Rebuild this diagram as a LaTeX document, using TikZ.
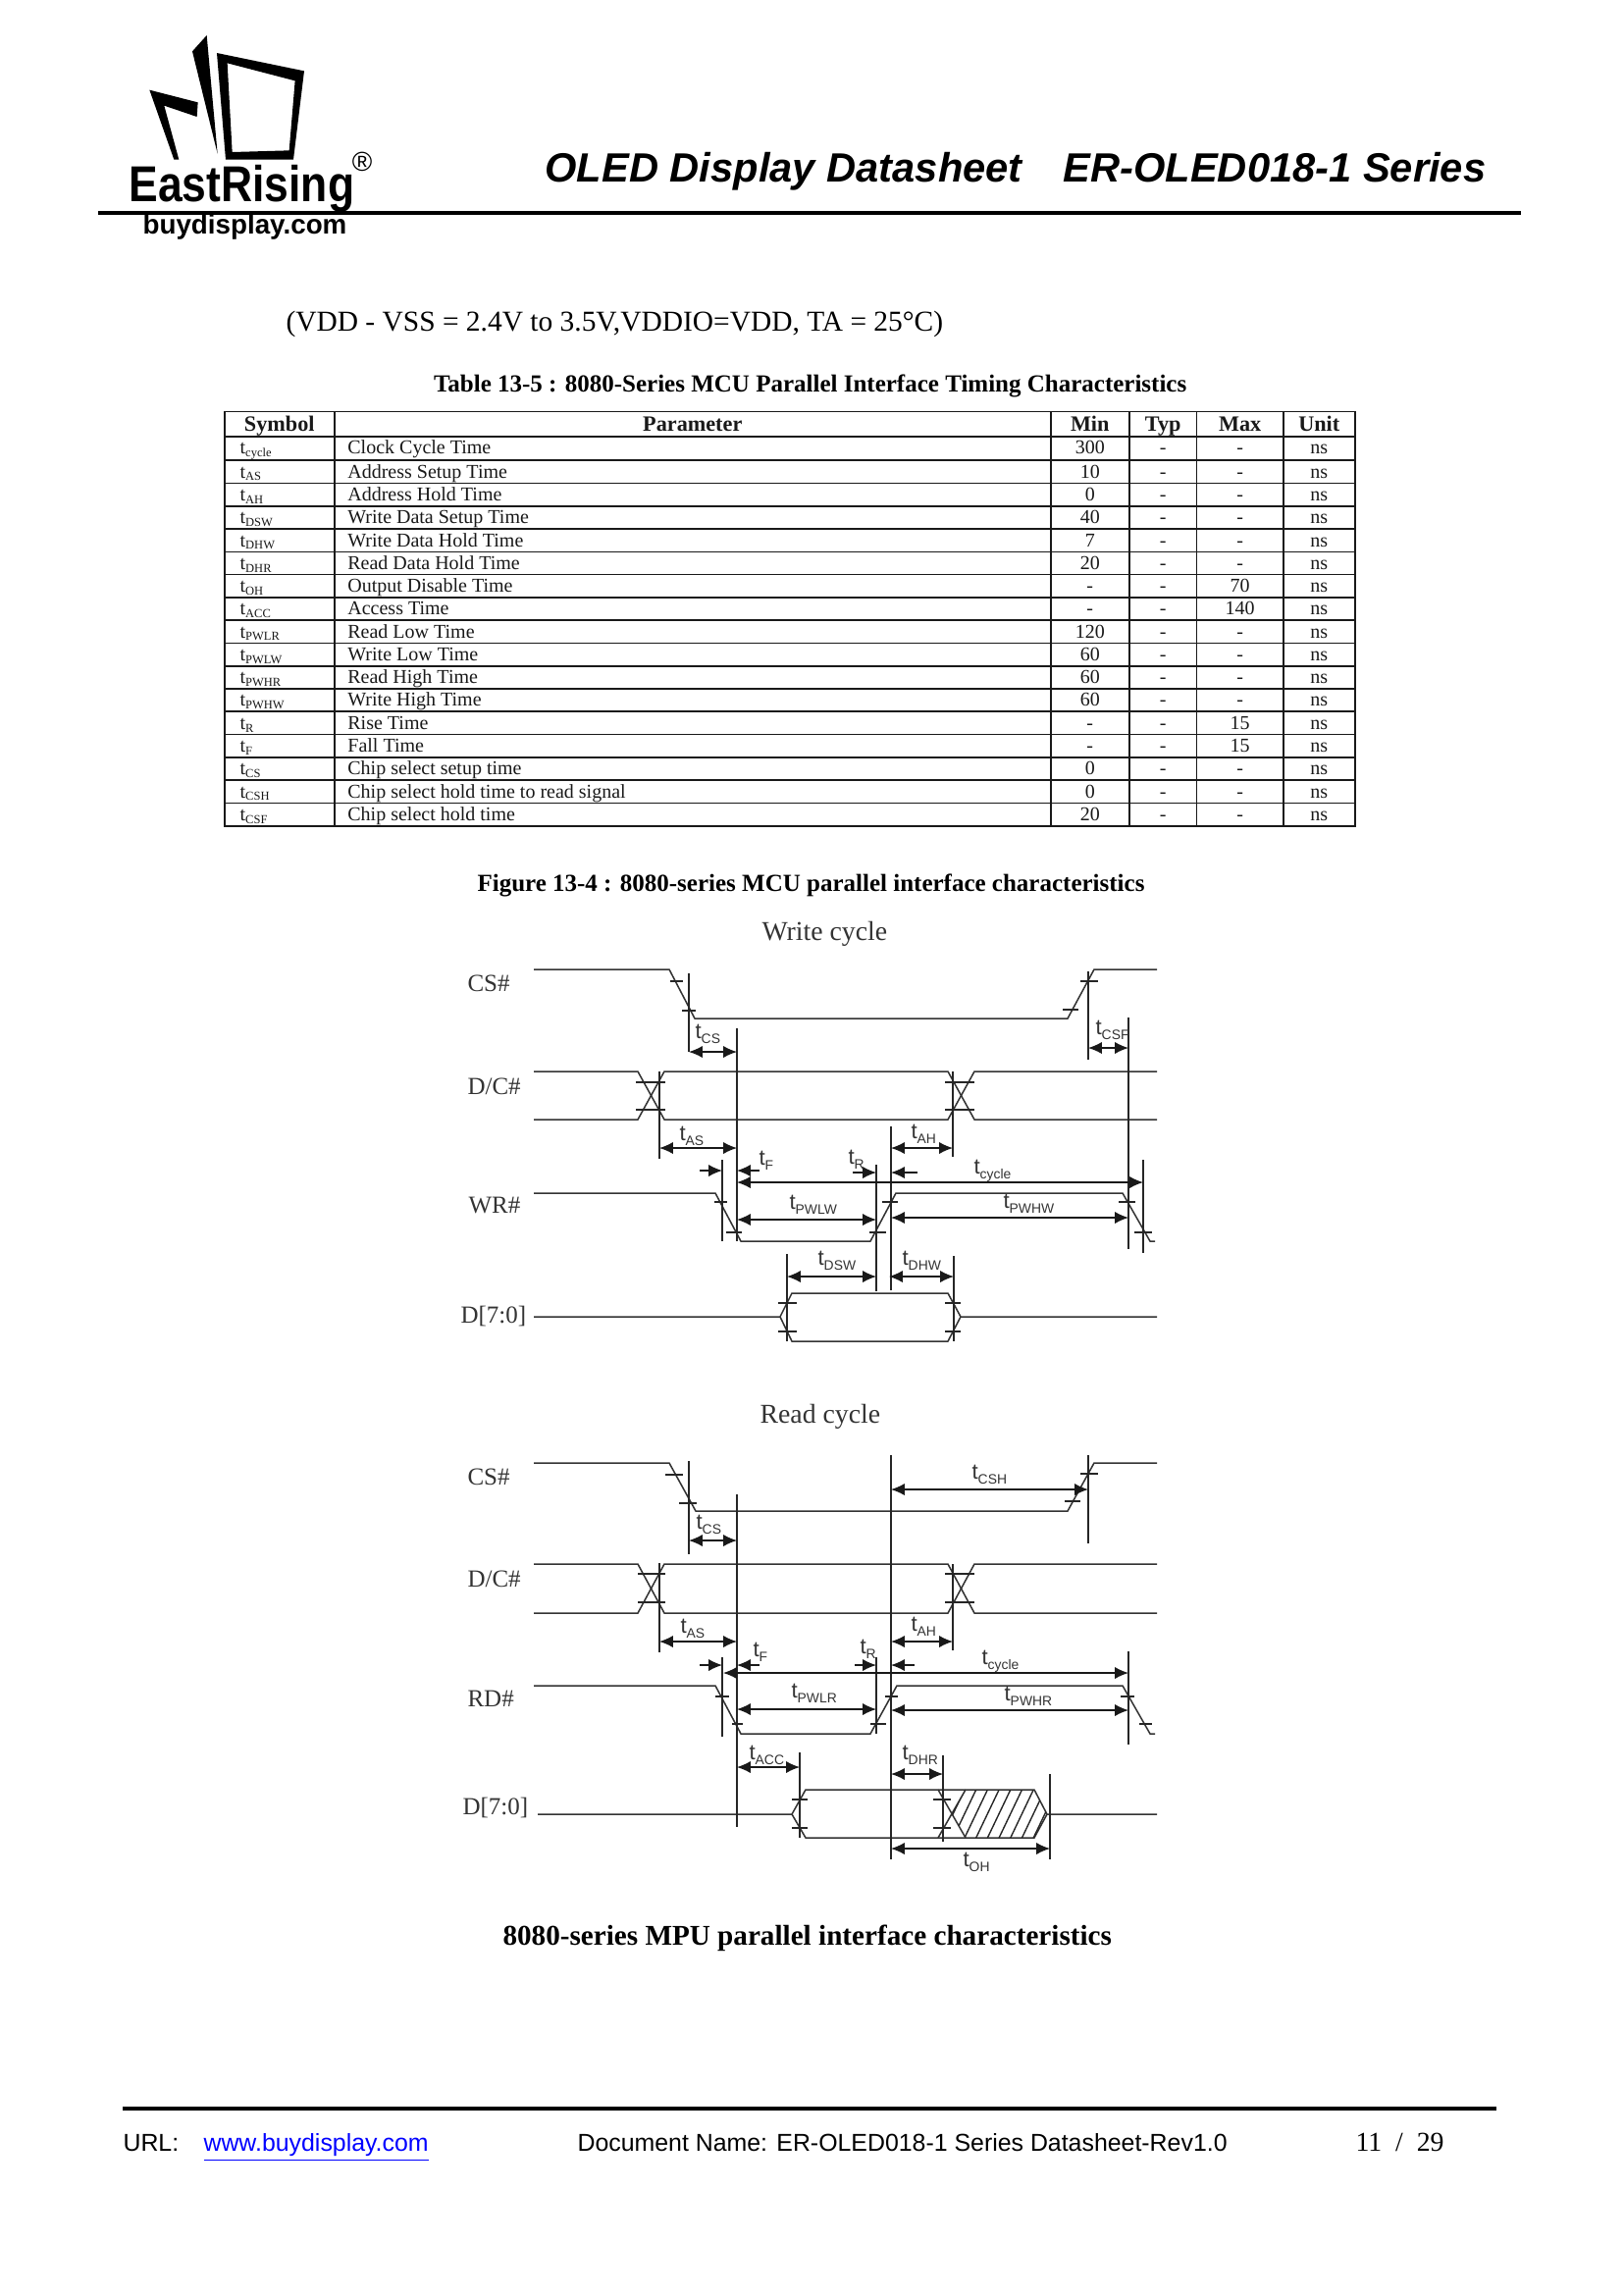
\documentclass[tikz,border=0pt]{standalone}
\usepackage{fontspec}
\usepackage{array}
\setmainfont{Liberation Serif}
\setsansfont{Liberation Sans}
\usepackage{tikz}
\usetikzlibrary{arrows.meta,positioning}
\definecolor{linkblue}{RGB}{0,0,255}
\setlength{\tabcolsep}{0pt}
\setlength{\arrayrulewidth}{0.6pt}
\setlength{\extrarowheight}{2.38pt}
\newcommand{\tlab}[1]{t\raisebox{-1.8pt}{\fontsize{5}{6}\selectfont #1}}
\newcommand{\tsym}[1]{t\raisebox{-1pt}{\fontsize{4.5}{5}\selectfont #1}}

\begin{document}
\begin{tikzpicture}[
    x=0.36pt,
    y=-0.36pt,
    >={Latex[length=5pt,width=4.4pt]},
    signal/.style={line width=0.55pt, draw=black!80},
    guide/.style={line width=0.5pt, draw=black!85},
    marktick/.style={line width=0.45pt, draw=black!85},
    dim/.style={line width=0.5pt, draw=black!90},
    timelabel/.style={
		anchor=base west,
		inner sep=0pt,
		text=black!80,
		font=\sffamily\fontsize{8}{9}\selectfont
	},
    siglabel/.style={
		anchor=base west,
		inner sep=0pt,
		text=black!80,
		font=\fontsize{9}{10}\selectfont
	},
    cycletitle/.style={
		anchor=base west,
		inner sep=0pt,
		text=black!80,
		font=\fontsize{10}{11}\selectfont
	},
    boldtitle/.style={
		anchor=base west,
		inner sep=0pt,
		font=\bfseries\fontsize{9}{10}\selectfont
	},
    footer/.style={
		anchor=base west,
		inner sep=0pt,
		font=\sffamily\fontsize{8.96}{10}\selectfont
	},
    heading/.style={
		anchor=base west,
		inner sep=0pt,
		font=\sffamily\bfseries\itshape\fontsize{15}{18}\selectfont
	}
  ]
  \useasboundingbox (0,0) rectangle (1654,2339);

  % Logo and page head
  \begin{scope}[shift={(90,20)}, x=0.12pt, y=-0.12pt]
    \fill (362,48) -- (318,97) -- (395,410) -- cycle;
    \fill (187,215) -- (335,253) -- (332,297) -- (232,263) -- (277,428) -- (262,428) -- cycle;
    \fill[even odd rule] (393,102) -- (660,157) -- (627,428) -- (420,428) -- cycle
      (425,133) -- (632,187) -- (614,400) -- (440,405) -- cycle;
  \end{scope}
  \node [anchor=base west, inner sep=0pt, font=\sffamily\bfseries\fontsize{18.5}{20}\selectfont] (brand) at (131,205) {\scalebox{0.865}[1]{EastRising}};
  \node [inner sep=0pt, font=\sffamily\fontsize{10}{11}\selectfont] (regmark) at (369,165) {\textregistered};
  \node [anchor=base west, inner sep=0pt, font=\sffamily\bfseries\fontsize{10}{11}\selectfont] (site) at (145,238) {buydisplay.com};
  \node [heading] (head1) at (555,185) {OLED Display Datasheet};
  \node [heading] (head2) at (1083,185) {ER-OLED018-1 Series};
  \draw [line width=1.6pt] (100,217) -- (1550,217);

  \node [anchor=base west, inner sep=0pt, font=\fontsize{10.6}{12}\selectfont] (cond) at (291,337) {(VDD - VSS = 2.4V to 3.5V,VDDIO=VDD, TA = 25°C)};
  \node [boldtitle] (tabletitle) at (441.5,399.5) {Table 13-5 : 8080-Series MCU Parallel Interface Timing Characteristics};

  % The table
  \node [anchor=north west, inner sep=0pt, outer sep=0pt, text=black!90] (timingtable) at (228,418.5)
 {%
 \fontsize{7.2}{5.4}\selectfont
 \begin{tabular}{|>{\hspace*{5.4pt}}p{39.7pt}|>{\hspace*{4.6pt}}p{262.2pt}|>{\centering\arraybackslash}p{28.2pt}|>{\centering\arraybackslash}p{24.2pt}|>{\centering\arraybackslash}p{31.1pt}|>{\centering\arraybackslash}p{25.7pt}|}
  \hline
  \multicolumn{1}{|c|}{\rule{0pt}{6.9pt}\fontsize{8}{8}\selectfont\textbf{Symbol}} & \multicolumn{1}{c|}{\fontsize{8}{8}\selectfont\textbf{Parameter}} & \textbf{\fontsize{8}{8}\selectfont Min} & \textbf{\fontsize{8}{8}\selectfont Typ} & \textbf{\fontsize{8}{8}\selectfont Max} & \textbf{\fontsize{8}{8}\selectfont Unit}\\ \hline
  \tsym{cycle} & Clock Cycle Time & 300 & - & - & ns\\ \hline
  \tsym{AS} & Address Setup Time & 10 & - & - & ns\\ \hline
  \tsym{AH} & Address Hold Time & 0 & - & - & ns\\ \hline
  \tsym{DSW} & Write Data Setup Time & 40 & - & - & ns\\ \hline
  \tsym{DHW} & Write Data Hold Time & 7 & - & - & ns\\ \hline
  \tsym{DHR} & Read Data Hold Time & 20 & - & - & ns\\ \hline
  \tsym{OH} & Output Disable Time & - & - & 70 & ns\\ \hline
  \tsym{ACC} & Access Time & - & - & 140 & ns\\ \hline
  \tsym{PWLR} & Read Low Time & 120 & - & - & ns\\ \hline
  \tsym{PWLW} & Write Low Time & 60 & - & - & ns\\ \hline
  \tsym{PWHR} & Read High Time & 60 & - & - & ns\\ \hline
  \tsym{PWHW} & Write High Time & 60 & - & - & ns\\ \hline
  \tsym{R} & Rise Time & - & - & 15 & ns\\ \hline
  \tsym{F} & Fall Time & - & - & 15 & ns\\ \hline
  \tsym{CS} & Chip select setup time & 0 & - & - & ns\\ \hline
  \tsym{CSH} & Chip select hold time to read signal & 0 & - & - & ns\\ \hline
  \tsym{CSF} & Chip select hold time & 20 & - & - & ns\\ \hline
 \end{tabular}
 };

  \node [boldtitle] (figtitle) at (486,908) {Figure 13-4 : 8080-series MCU parallel interface characteristics};

  % Write cycle
  \node [cycletitle] (writetitle) at (776,958) {Write cycle};
  \node [siglabel] (wcs) at (476,1010) {CS\#};
  \node [siglabel] (wdc) at (476,1115) {D/C\#};
  \node [siglabel] (wwr) at (477,1236) {WR\#};
  \node [siglabel] (wdata) at (469,1348) {D[7:0]};

  \draw [signal] (544,988) -- (682,988) -- (708,1038) -- (1088,1038) -- (1115,988) -- (1179,988);
  \draw [signal] (544,1092) -- (650,1092) -- (677,1141) -- (966,1141) -- (993,1092) -- (1179,1092);
  \draw [signal] (544,1141) -- (650,1141) -- (677,1092) -- (966,1092) -- (993,1141) -- (1179,1141);
  \draw [signal] (544,1216) -- (729,1216) -- (755,1265) -- (887,1265) -- (913,1216) -- (1144,1216) -- (1172,1265) -- (1177,1265);
  \draw [signal] (544,1342) -- (795,1342) -- (807,1318) -- (966,1318) -- (979,1342) -- (1179,1342);
  \draw [signal] (795,1342) -- (807,1367) -- (966,1367) -- (979,1342);

  % small ticks on the edges
  \draw [marktick] (683,1000) -- (696,1000);
  \draw [marktick] (695,1030) -- (709,1030);
  \draw [marktick] (1101,1000) -- (1119,1000);
  \draw [marktick] (1083,1029) -- (1099,1029);
  \draw [marktick] (648,1103) -- (678,1103);
  \draw [marktick] (648,1131) -- (678,1131);
  \draw [marktick] (963,1103) -- (993,1103);
  \draw [marktick] (963,1131) -- (993,1131);
  \draw [marktick] (728,1225) -- (741,1225);
  \draw [marktick] (740,1256) -- (756,1256);
  \draw [marktick] (886,1256) -- (903,1256);
  \draw [marktick] (899,1225) -- (915,1225);
  \draw [marktick] (1140,1225) -- (1157,1225);
  \draw [marktick] (1156,1256) -- (1174,1256);
  \draw [marktick] (793,1328) -- (812,1328);
  \draw [marktick] (793,1357) -- (812,1357);
  \draw [marktick] (963,1328) -- (979,1328);
  \draw [marktick] (963,1357) -- (979,1357);

  % guide lines
  \draw [guide] (702,992) -- (702,1072);
  \draw [guide] (751,1048) -- (751,1265);
  \draw [guide] (672,1092) -- (672,1181);
  \draw [guide] (908,1148) -- (908,1315);
  \draw [guide] (971,1092) -- (971,1179);
  \draw [guide] (1109,990) -- (1109,1080);
  \draw [guide] (1150,1037) -- (1150,1273);
  \draw [guide] (736,1182) -- (736,1265);
  \draw [guide] (1165,1182) -- (1165,1277);
  \draw [guide] (893,1187) -- (893,1316);
  \draw [guide] (802,1278) -- (802,1367);
  \draw [guide] (972,1280) -- (972,1367);

  % dimension arrows
  \draw [dim,<->] (702,1072) -- (751,1072);
  \draw [dim,<->] (672,1170) -- (751,1170);
  \draw [dim,<->] (908,1170) -- (971,1170);
  \draw [dim,<->] (1109,1068) -- (1150,1068);
  \draw [dim,->] (713,1193) -- (736,1193);
  \draw [dim,->] (774,1193) -- (751,1193);
  \draw [dim,<->] (751,1205) -- (1165,1205);
  \draw [dim,->] (869,1195) -- (893,1195);
  \draw [dim,->] (935,1195) -- (908,1195);
  \draw [dim,<->] (751,1243) -- (893,1243);
  \draw [dim,<->] (908,1241) -- (1150,1241);
  \draw [dim,<->] (802,1301) -- (893,1301);
  \draw [dim,<->] (906,1301) -- (972,1301);

  \node [timelabel] (wtcs) at (708,1058) {\tlab{CS}};
  \node [timelabel] (wtas) at (692,1162) {\tlab{AS}};
  \node [timelabel] (wtf) at (773,1187) {\tlab{F}};
  \node [timelabel] (wtcsf) at (1116,1054) {\tlab{CSF}};
  \node [timelabel] (wtah) at (928,1160) {\tlab{AH}};
  \node [timelabel] (wtr) at (864,1186) {\tlab{R}};
  \node [timelabel] (wtcycle) at (992,1196) {\tlab{cycle}};
  \node [timelabel] (wtpwlw) at (804,1232) {\tlab{PWLW}};
  \node [timelabel] (wtpwhw) at (1022,1231) {\tlab{PWHW}};
  \node [timelabel] (wtdsw) at (833,1289) {\tlab{DSW}};
  \node [timelabel] (wtdhw) at (919,1289) {\tlab{DHW}};

  % Read cycle
  \node [cycletitle] (readtitle) at (774,1450) {Read cycle};
  \node [siglabel] (rcs) at (476,1513) {CS\#};
  \node [siglabel] (rdc) at (476,1617) {D/C\#};
  \node [siglabel] (rrd) at (476,1739) {RD\#};
  \node [siglabel] (rdata) at (471,1849) {D[7:0]};

  \draw [signal] (544,1491) -- (682,1491) -- (709,1540) -- (1088,1540) -- (1115,1491) -- (1179,1491);
  \draw [signal] (544,1594) -- (650,1594) -- (677,1644) -- (966,1644) -- (993,1594) -- (1179,1594);
  \draw [signal] (544,1644) -- (650,1644) -- (677,1594) -- (966,1594) -- (993,1644) -- (1179,1644);
  \draw [signal] (544,1718) -- (729,1718) -- (755,1767) -- (887,1767) -- (914,1718) -- (1144,1718) -- (1172,1767) -- (1177,1767);
  \draw [signal] (548,1849) -- (807,1849) -- (821,1824) -- (1054,1824) -- (1067,1849) -- (1179,1849);
  \draw [signal] (807,1849) -- (821,1873) -- (1054,1873) -- (1067,1849);
  \draw [signal] (956,1824) -- (984,1873);
  \draw [signal] (956,1873) -- (984,1824);

  % hatching of the invalid data
  \begin{scope}
    \clip (970,1849) -- (984,1824) -- (1054,1824) -- (1067,1849) -- (1054,1873) -- (984,1873) -- cycle;
    \draw [guide] (983,1824) -- (959.6,1873);
    \draw [guide] (994.7,1824) -- (971.3,1873);
    \draw [guide] (1006.4,1824) -- (983,1873);
    \draw [guide] (1018.1,1824) -- (994.7,1873);
    \draw [guide] (1029.8,1824) -- (1006.4,1873);
    \draw [guide] (1041.5,1824) -- (1018.1,1873);
    \draw [guide] (1053.2,1824) -- (1029.8,1873);
    \draw [guide] (1064.9,1824) -- (1041.5,1873);
    \draw [guide] (1076.6,1824) -- (1053.2,1873);
  \end{scope}

  % small ticks on the edges
  \draw [marktick] (678,1503) -- (696,1503);
  \draw [marktick] (692,1532) -- (710,1532);
  \draw [marktick] (1101,1502) -- (1119,1502);
  \draw [marktick] (1085,1530) -- (1101,1530);
  \draw [marktick] (650,1604) -- (678,1604);
  \draw [marktick] (650,1633) -- (678,1633);
  \draw [marktick] (963,1604) -- (993,1604);
  \draw [marktick] (963,1633) -- (993,1633);
  \draw [marktick] (729,1729) -- (743,1729);
  \draw [marktick] (746,1757) -- (757,1757);
  \draw [marktick] (887,1757) -- (903,1757);
  \draw [marktick] (902,1729) -- (915,1729);
  \draw [marktick] (1142,1729) -- (1156,1729);
  \draw [marktick] (1161,1757) -- (1174,1757);
  \draw [marktick] (807,1834) -- (823,1834);
  \draw [marktick] (807,1863) -- (823,1863);
  \draw [marktick] (951,1834) -- (969,1834);
  \draw [marktick] (951,1863) -- (969,1863);

  % guide lines
  \draw [guide] (702,1489) -- (702,1584);
  \draw [guide] (751,1523) -- (751,1862);
  \draw [guide] (908,1483) -- (908,1895);
  \draw [guide] (1109,1483) -- (1109,1573);
  \draw [guide] (672,1593) -- (672,1684);
  \draw [guide] (971,1594) -- (971,1682);
  \draw [guide] (736,1689) -- (736,1770);
  \draw [guide] (893,1689) -- (893,1767);
  \draw [guide] (1150,1683) -- (1150,1778);
  \draw [guide] (815,1786) -- (815,1873);
  \draw [guide] (961,1789) -- (961,1877);
  \draw [guide] (1070,1808) -- (1070,1895);

  % dimension arrows
  \draw [dim,<->] (702,1570) -- (751,1570);
  \draw [dim,<->] (908,1518) -- (1109,1518);
  \draw [dim,<->] (672,1673) -- (751,1673);
  \draw [dim,<->] (908,1673) -- (971,1673);
  \draw [dim,->] (713,1697) -- (736,1697);
  \draw [dim,->] (774,1697) -- (751,1697);
  \draw [dim,<->] (737,1705) -- (1150,1705);
  \draw [dim,->] (871,1697) -- (893,1697);
  \draw [dim,->] (932,1697) -- (908,1697);
  \draw [dim,<->] (751,1742) -- (893,1742);
  \draw [dim,<->] (908,1743) -- (1150,1743);
  \draw [dim,<->] (751,1801) -- (815,1801);
  \draw [dim,<->] (908,1808) -- (961,1808);
  \draw [dim,<->] (908,1884) -- (1070,1884);

  \node [timelabel] (rtcs) at (709,1558) {\tlab{CS}};
  \node [timelabel] (rtas) at (693,1664) {\tlab{AS}};
  \node [timelabel] (rtf) at (767,1688) {\tlab{F}};
  \node [timelabel] (rtcsh) at (990,1507) {\tlab{CSH}};
  \node [timelabel] (rtah) at (928,1662) {\tlab{AH}};
  \node [timelabel] (rtr) at (876,1685) {\tlab{R}};
  \node [timelabel] (rtcycle) at (1000,1696) {\tlab{cycle}};
  \node [timelabel] (rtpwlr) at (806,1730) {\tlab{PWLR}};
  \node [timelabel] (rtpwhr) at (1023,1733) {\tlab{PWHR}};
  \node [timelabel] (rtacc) at (763,1793) {\tlab{ACC}};
  \node [timelabel] (rtdhr) at (919,1793) {\tlab{DHR}};
  \node [timelabel] (rtoh) at (981,1902) {\tlab{OH}};

  \node [anchor=base west, inner sep=0pt, font=\bfseries\fontsize{10.5}{12}\selectfont] (caption) at (512,1982) {8080-series MPU parallel interface characteristics};

  % Page foot
  \draw [line width=1.5pt] (125,2149) -- (1525,2149);
  \node [footer] (urllabel) at (125,2192) {URL:};
  \node [footer, text=linkblue] (urllink) at (207,2192) {\underline{www.buydisplay.com}};
  \node [footer] (docname) at (588,2192) {Document Name: ER-OLED018-1 Series Datasheet-Rev1.0};
  \node [anchor=base west, inner sep=0pt, font=\fontsize{10}{11}\selectfont] (pageno) at (1381,2192) {11\ \ /\ \ 29};

\end{tikzpicture}
\end{document}
